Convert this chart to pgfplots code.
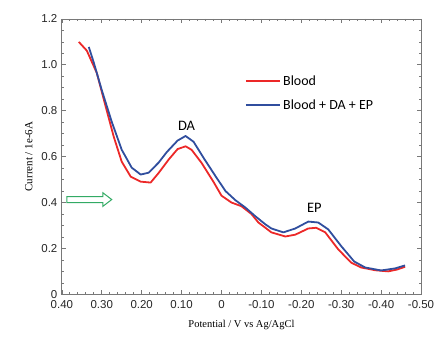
\documentclass[border=0pt]{standalone}
\usepackage{fontspec}
\setmainfont{Liberation Sans}
\newfontfamily\serifx{Liberation Serif}
\newfontfamily\calib{Carlito}
\usepackage{pgfplots}
\pgfplotsset{compat=1.18}
\definecolor{cred}{RGB}{236,40,40}
\definecolor{cblue}{RGB}{48,78,158}
\definecolor{cgreen}{RGB}{50,170,100}
\definecolor{caxis}{RGB}{120,120,120}
\begin{document}
\begin{tikzpicture}
\begin{axis}[
  scale only axis, width=360pt, height=276pt,
  x dir=reverse, xmin=-0.5, xmax=0.4, ymin=0, ymax=1.2,
  xtick={0.4,0.3,0.2,0.1,0,-0.1,-0.2,-0.3,-0.4,-0.5},
  xticklabels={0.40,0.30,0.20,0.10,0,-0.10,-0.20,-0.30,-0.40,-0.50},
  ytick={0,0.2,0.4,0.6,0.8,1.0,1.2},
  yticklabels={0,0.2,0.4,0.6,0.8,1.0,1.2},
  minor x tick num=4, minor y tick num=3,
  tick align=inside,
  major tick length=4pt, minor tick length=2.5pt,
  axis line style={caxis, line width=0.9pt},
  every tick/.style={caxis, line width=0.7pt},
  tick label style={font=\fontsize{11.5}{14}\selectfont, text=black!85},
  xticklabel style={yshift=-2.5pt},
  yticklabel style={xshift=-1pt},
  xlabel={\serifx Potential / V vs Ag/AgCl},
  ylabel={\serifx Current / 1e-6A},
  xlabel style={font=\fontsize{10.5}{12}\selectfont, yshift=-5pt},
  ylabel style={font=\fontsize{11}{13}\selectfont, yshift=2pt},
  legend style={draw=none, fill=none, at={(0.5,0.81)}, anchor=north west,
    font=\calib\fontsize{14}{16}\selectfont, row sep=9pt},
  legend cell align=left,
  legend image code/.code={\draw[#1, line width=2.5pt] (0,0) -- (1.2cm,0);},
]
\addplot[cred, line width=1.8pt, line join=round] coordinates {
(0.3575,1.100) (0.3375,1.062) (0.3125,0.965) (0.29,0.817) (0.27,0.687)
(0.25,0.578) (0.2275,0.513) (0.2025,0.491) (0.1775,0.487) (0.157,0.530)
(0.1325,0.587) (0.11,0.633) (0.09,0.645) (0.075,0.630) (0.05,0.573)
(0.02,0.490) (0.0,0.430) (-0.025,0.400) (-0.05,0.384) (-0.075,0.350)
(-0.0925,0.313) (-0.11,0.290) (-0.125,0.270) (-0.16,0.252) (-0.185,0.260)
(-0.2175,0.287) (-0.2375,0.290) (-0.26,0.270) (-0.2925,0.196) (-0.325,0.138)
(-0.35,0.117) (-0.385,0.105) (-0.4175,0.100) (-0.44,0.108) (-0.46,0.120)
};
\addlegendentry{Blood}
\addplot[cblue, line width=1.8pt, line join=round] coordinates {
(0.3325,1.078) (0.32,1.010) (0.30,0.890) (0.275,0.752) (0.25,0.630)
(0.225,0.552) (0.2025,0.522) (0.1825,0.530) (0.1575,0.574) (0.137,0.620)
(0.11,0.670) (0.09,0.690) (0.07,0.665) (0.045,0.595) (0.015,0.515)
(-0.01,0.450) (-0.035,0.410) (-0.06,0.378) (-0.085,0.340) (-0.11,0.305)
(-0.125,0.287) (-0.155,0.270) (-0.185,0.287) (-0.2175,0.317) (-0.2425,0.313)
(-0.2675,0.283) (-0.30,0.210) (-0.3325,0.143) (-0.36,0.117) (-0.40,0.104)
(-0.435,0.113) (-0.46,0.126)
};
\addlegendentry{Blood + DA + EP}
\node[font=\calib\fontsize{14.5}{16}\selectfont] at (axis cs:0.0875,0.735) {DA};
\node[font=\calib\fontsize{14.5}{16}\selectfont] at (axis cs:-0.2325,0.375) {EP};
\draw[cgreen, line width=1pt, line join=miter]
  (axis cs:0.3875,0.426) -- (axis cs:0.2975,0.426) -- (axis cs:0.2975,0.443)
  -- (axis cs:0.275,0.413) -- (axis cs:0.2975,0.383) -- (axis cs:0.2975,0.400)
  -- (axis cs:0.3875,0.400) -- cycle;
\end{axis}
\pgfresetboundingbox
\path ([shift={(-62pt,-52pt)}]current axis.south west) rectangle ([shift={(15pt,19pt)}]current axis.north east);
\end{tikzpicture}
\end{document}
